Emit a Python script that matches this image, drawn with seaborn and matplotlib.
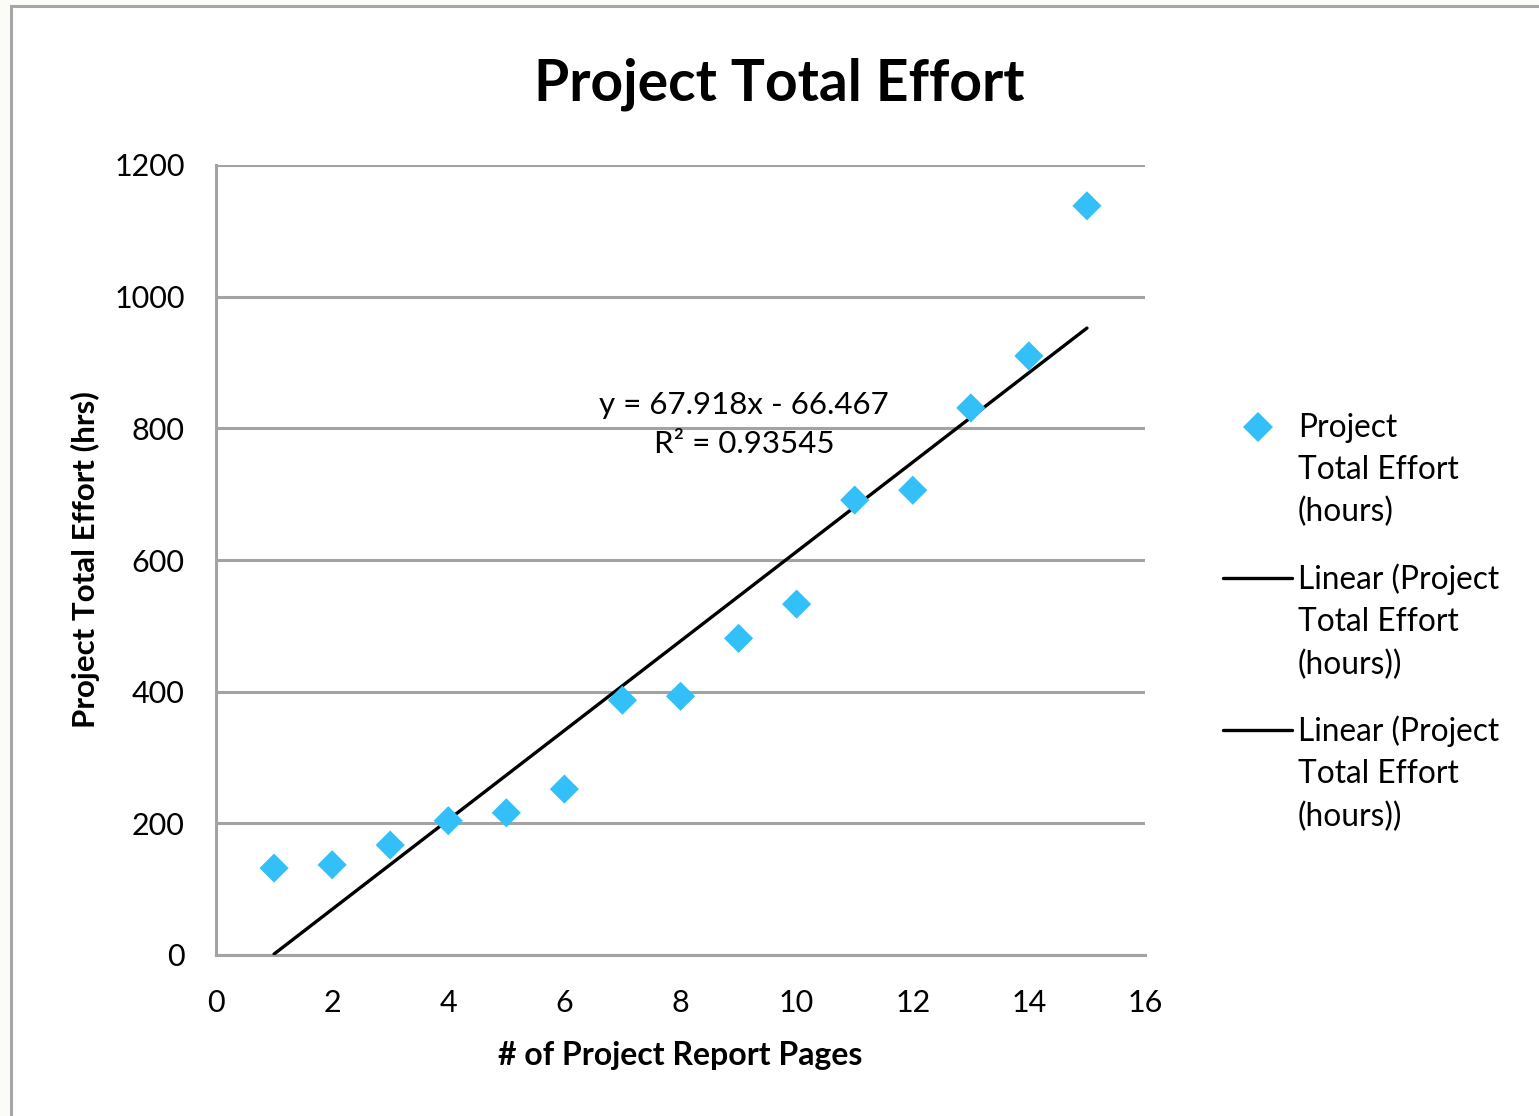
import numpy as np
import pandas as pd
import matplotlib
matplotlib.use("Agg")
import matplotlib.pyplot as plt
from matplotlib.lines import Line2D
from matplotlib.patches import Rectangle
import seaborn as sns

# Data: report length vs. total project effort
pages = [1, 2, 3, 4, 5, 6, 7, 8, 9, 10, 11, 12, 13, 14, 15]
effort_hours = [132, 137, 167, 204, 216, 252, 387, 393, 481, 533, 691, 706, 831, 910, 1138]

# Linear trendline coefficients
SLOPE = 67.918
INTERCEPT = -66.467
R_SQUARED = 0.93545

x_ticks = [0, 2, 4, 6, 8, 10, 12, 14, 16]
y_ticks = [0, 200, 400, 600, 800, 1000, 1200]

title = "Project Total Effort"
x_label = "# of Project Report Pages"
y_label = "Project Total Effort (hrs)"
series_label = "Project\nTotal Effort\n(hours)"
trend_label = "Linear (Project\nTotal Effort\n(hours))"

df = pd.DataFrame({"pages": pages, "effort": effort_hours})
x_fit = np.array([df["pages"].min(), df["pages"].max()], dtype=float)
trend = pd.DataFrame({"pages": x_fit, "effort": SLOPE * x_fit + INTERCEPT})

sns.set_theme(style="white")
plt.rcParams["font.family"] = ["Lato", "DejaVu Sans"]

W, H = 1539, 1116
fig = plt.figure(figsize=(W / 100, H / 100), dpi=100)
fig.patch.set_facecolor("#fbfbf8")

# white sheet with a grey frame
fig.add_artist(Rectangle((11 / W, -0.05), 1.1, 1 - 6.5 / H + 0.05,
                         transform=fig.transFigure, facecolor="white",
                         edgecolor="#a6a6a6", linewidth=2.2, zorder=0))

ax = fig.add_axes([216 / W, 1 - 955 / H, 929 / W, 790 / H])
ax.set_facecolor("none")

grey = "#a3a3a3"
ax.set_xlim(0, 16)
ax.set_ylim(0, 1200)
ax.set_xticks(x_ticks)
ax.set_yticks(y_ticks)
ax.yaxis.grid(True, color=grey, linewidth=2.2)
ax.xaxis.grid(False)
ax.set_axisbelow(True)
for side in ["top", "right"]:
    ax.spines[side].set_visible(False)
for side in ["left", "bottom"]:
    ax.spines[side].set_color(grey)
    ax.spines[side].set_linewidth(2.2)
ax.tick_params(axis="both", which="major", direction="out", length=8.5,
               width=2.2, color=grey, labelsize=22, labelcolor="black")
ax.tick_params(axis="y", pad=14)
ax.tick_params(axis="x", pad=16)

sns.lineplot(data=trend, x="pages", y="effort", ax=ax, color="black",
             linewidth=2.4, zorder=3)
sns.scatterplot(data=df, x="pages", y="effort", ax=ax, marker="D", s=220,
                color="#33bff7", edgecolor="none", linewidth=0, zorder=4,
                clip_on=False)

ax.set_xlabel(x_label, fontsize=23, fontweight="bold", color="black", va="center")
ax.set_ylabel(y_label, fontsize=22.5, fontweight="bold", color="black", va="center")
ax.xaxis.set_label_coords(0.5, (955 - 1055) / 790)
ax.yaxis.set_label_coords((85 - 216) / 929, 0.5)

eq = f"y = {SLOPE:.3f}x - {abs(INTERCEPT):.3f}\nR² = {R_SQUARED:.5f}"
ax.text(9.1, 806, eq, ha="center", va="center", multialignment="center",
        fontsize=22.5, linespacing=1.45, color="black", zorder=5)

fig.text(779 / W, 1 - 84 / H, title, ha="center", va="center",
         fontsize=41, fontweight="bold", color="black")

# legend
def fx(px):
    return px / W

def fy(py):
    return 1 - py / H

fig.add_artist(Line2D([fx(1258)], [fy(427)], marker="D", markersize=14.8,
                      color="#33bff7", markeredgewidth=0, linestyle="none",
                      transform=fig.transFigure))
for yy in (578, 730):
    fig.add_artist(Line2D([fx(1223), fx(1292)], [fy(yy), fy(yy)], color="black",
                          linewidth=2.4, transform=fig.transFigure))
for label, yc in ((series_label, 470), (trend_label, 622), (trend_label, 774)):
    fig.text(fx(1298), fy(yc), label, ha="left", va="center", fontsize=22.8,
             linespacing=1.5, color="black")

fig.savefig("out.png", dpi=100)
